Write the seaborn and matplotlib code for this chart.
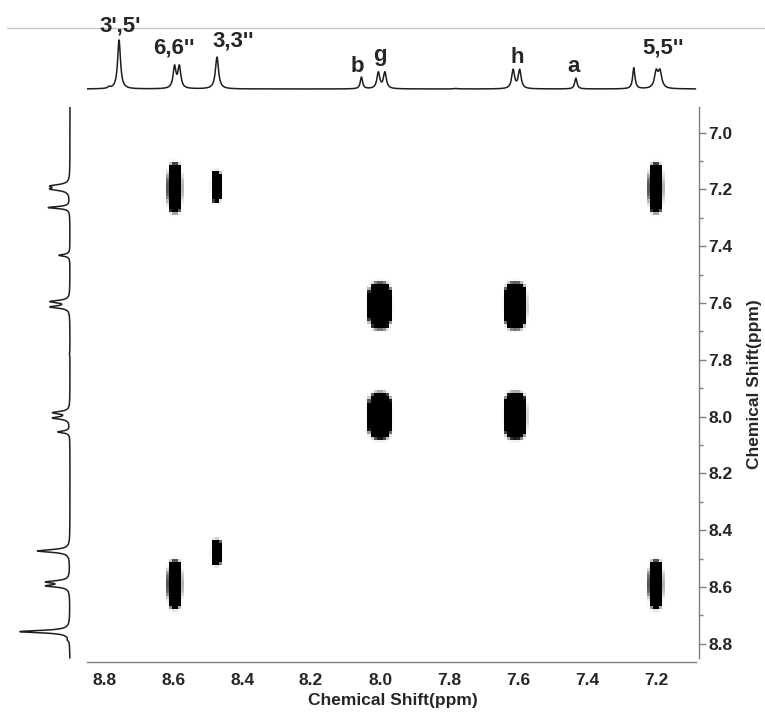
import numpy as np
import matplotlib
matplotlib.use("Agg")
import matplotlib.pyplot as plt
from matplotlib.lines import Line2D
from matplotlib.ticker import MultipleLocator, FormatStrFormatter
import seaborn as sns

# 1H peaks (ppm, relative height, half width)
peak_ppm = [8.786, 8.757, 8.596, 8.582, 8.473, 8.054, 8.005, 7.986, 7.78,
            7.614, 7.595, 7.432, 7.264, 7.199, 7.188]
peak_height = [3, 100, 44, 44, 65, 24, 33, 33, 1, 38, 38, 22, 43, 33, 33]
peak_hw = [0.004, 0.005, 0.005, 0.005, 0.0055, 0.004, 0.005, 0.005, 0.006,
           0.005, 0.005, 0.004, 0.004, 0.006, 0.006]

# assignment labels on the top trace
label_text = ["3',5'", "6,6''", "3,3''", "b", "g", "h", "a", "5,5''"]
label_ppm = [8.754, 8.598, 8.427, 8.067, 8.000, 7.603, 7.438, 7.180]
label_level = [118, 73, 86, 35, 57, 53, 35, 73]

# COSY cross peaks (f2 ppm, f1 ppm, width ppm, height ppm)
cross_x = [8.595, 8.475, 7.200, 8.000, 7.608, 8.000, 7.608, 8.595, 8.475, 7.200]
cross_y = [7.195, 7.190, 7.195, 7.609, 7.609, 7.997, 7.997, 8.590, 8.478, 8.590]
cross_w = [0.043, 0.028, 0.043, 0.069, 0.064, 0.069, 0.064, 0.043, 0.028, 0.043]
cross_h = [0.170, 0.105, 0.170, 0.160, 0.160, 0.160, 0.160, 0.165, 0.090, 0.165]

x_lim = (8.85, 7.075)
y_lim = (8.864, 6.91)


def spectrum(grid):
    out = np.zeros_like(grid)
    for p, h, w in zip(peak_ppm, peak_height, peak_hw):
        out += h / (1 + ((grid - p) / w) ** 2)
    return out


sns.set_style("white")
plt.rcParams['font.family'] = ['Liberation Sans', 'DejaVu Sans']
plt.rcParams['font.weight'] = 'bold'

W, H = 765, 713
fig = plt.figure(figsize=(W / 100, H / 100), dpi=100)


def box(x0, y0, x1, y1):
    return [x0 / W, 1 - y1 / H, (x1 - x0) / W, (y1 - y0) / H]


ax = fig.add_axes(box(87, 107, 699, 662))
ax_top = fig.add_axes(box(87, 30, 699, 100))
ax_left = fig.add_axes(box(10, 107, 80, 662))

# 2D map
xc = np.arange(7.06, 8.87, 0.009)
yc = np.arange(6.90, 8.88, 0.011)
X, Y = np.meshgrid(xc, yc)
Z = np.zeros_like(X)
for cx, cy, cw, ch in zip(cross_x, cross_y, cross_w, cross_h):
    s = np.abs((X - cx) / (cw / 2)) ** 3 + np.abs((Y - cy) / (ch / 2)) ** 3
    Z = np.maximum(Z, np.exp(-s ** 3))
ax.pcolormesh(X, Y, Z, cmap="Greys", vmin=0, vmax=0.4, shading="nearest")
ax.set_xlim(*x_lim)
ax.set_ylim(*y_lim)

for s in ['top', 'left']:
    ax.spines[s].set_visible(False)
for s in ['bottom', 'right']:
    ax.spines[s].set_color('#7f7f7f')
    ax.spines[s].set_linewidth(1.0)
ax.spines['bottom'].set_bounds(8.85, 7.085)
ax.spines['right'].set_bounds(6.91, 8.85)

ax.yaxis.tick_right()
ax.xaxis.set_major_locator(MultipleLocator(0.2))
ax.xaxis.set_minor_locator(MultipleLocator(0.05))
ax.yaxis.set_major_locator(MultipleLocator(0.2))
ax.yaxis.set_minor_locator(MultipleLocator(0.1))
ax.xaxis.set_major_formatter(FormatStrFormatter('%.1f'))
ax.yaxis.set_major_formatter(FormatStrFormatter('%.1f'))
ax.tick_params(which='both', direction='out', color='#7f7f7f', width=1.0)
ax.tick_params(which='major', length=5)
ax.tick_params(which='minor', length=3)
ax.tick_params(axis='x', pad=3, labelsize=12.5)
ax.tick_params(axis='y', pad=2, labelsize=12.5)
for t in ax.get_xticklabels() + ax.get_yticklabels():
    t.set_fontweight('bold')

# projections
top_grid = np.linspace(7.085, 8.85, 4000)
sns.lineplot(x=top_grid, y=spectrum(top_grid), ax=ax_top, color='#1e1e1e',
             linewidth=1.1, estimator=None, sort=False)
ax_top.set_xlim(*x_lim)
ax_top.set_ylim(-22.45, 120.4)
ax_top.axis('off')

left_grid = np.linspace(6.91, 8.85, 4000)
sns.lineplot(x=spectrum(left_grid), y=left_grid, ax=ax_left, color='#1e1e1e',
             linewidth=1.1, estimator=None, sort=False, orient='y')
ax_left.set_xlim(120, -20)
ax_left.set_ylim(*y_lim)
ax_left.axis('off')

for txt, p, lv in zip(label_text, label_ppm, label_level):
    ax_top.text(p, lv, txt, ha='center', va='baseline', fontsize=16,
                fontweight='bold', clip_on=False)

fig.add_artist(Line2D([7 / W, 1], [1 - 28 / H, 1 - 28 / H], transform=fig.transFigure,
                      color='#c4c4c4', linewidth=0.9, zorder=0))

fig.text(393 / W, 1 - 700 / H, 'Chemical Shift(ppm)', ha='center', va='center',
         fontsize=12.5, fontweight='bold')
fig.text(754 / W, 1 - 384 / H, 'Chemical Shift(ppm)', ha='center', va='center',
         fontsize=12.5, fontweight='bold', rotation=90)

fig.savefig('out.png', dpi=100)
